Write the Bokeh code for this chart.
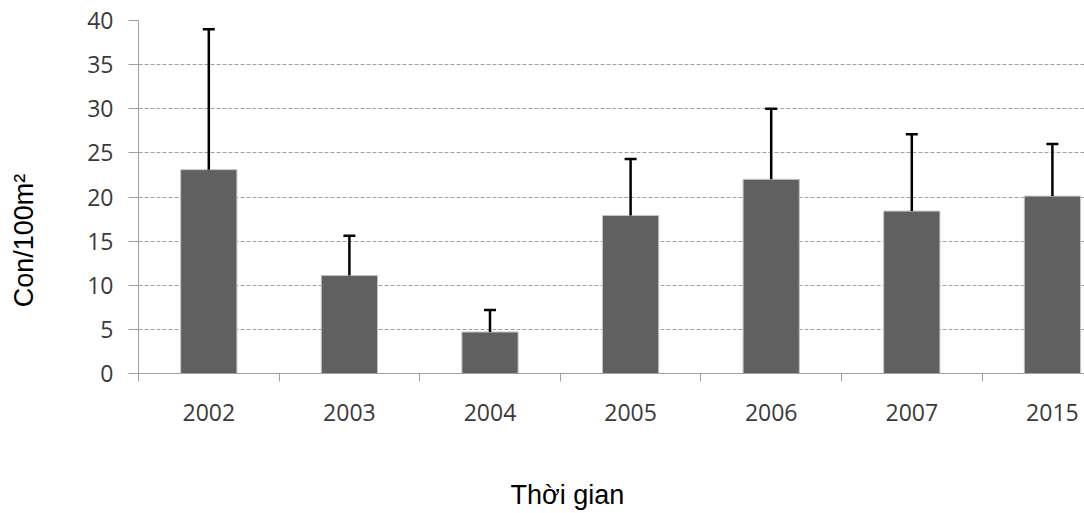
from bokeh.plotting import figure
from bokeh.models import (ColumnDataSource, Range1d, FixedTicker, Whisker, TeeHead,
                          LinearAxis)
from bokeh.embed import file_html
from bokeh.resources import INLINE

# Mean density (individuals per 100 m2) by survey year, with standard deviation
years = ["2002", "2003", "2004", "2005", "2006", "2007", "2015"]
means = [23.1, 11.1, 4.7, 17.9, 22.0, 18.4, 20.1]
errors = [15.9, 4.5, 2.5, 6.4, 8.0, 8.7, 5.9]
y_ticks = [0, 5, 10, 15, 20, 25, 30, 35, 40]
x_title = "Thời gian"
y_title = "Con/100m²"

xs = list(range(len(years)))
src = ColumnDataSource(dict(
    x=xs,
    mean=means,
    upper=[m + e for m, e in zip(means, errors)],
))

CAT_PX = 140.6
FRAME_W = 946
FRAME_H = 353
X0 = -0.5
X1 = X0 + FRAME_W / CAT_PX
PX_Y = FRAME_H / 40.0

p = figure(width=1084, height=513, output_backend="svg", toolbar_location=None,
           x_range=Range1d(X0, X1), y_range=Range1d(0, 40),
           min_border_left=138, min_border_right=0, min_border_top=20,
           min_border_bottom=140, x_axis_location=None, y_axis_location=None)
p.outline_line_color = None
p.background_fill_color = "white"
p.border_fill_color = "white"

# value axis
yax = LinearAxis(ticker=FixedTicker(ticks=y_ticks))
yax.axis_line_color = "#a0a0a0"
yax.major_tick_line_color = "#a0a0a0"
yax.major_tick_out = 10
yax.major_tick_in = 0
yax.minor_tick_line_color = None
yax.major_label_standoff = 15
yax.major_label_text_font = "Open Sans"
yax.major_label_text_font_size = "23px"
yax.major_label_text_color = "#3a3a3a"
p.add_layout(yax, "left")

# category axis: labels at bar centres, tick marks on category boundaries
xax = LinearAxis(ticker=FixedTicker(ticks=xs,
                                    minor_ticks=[i - 0.5 for i in range(len(years) + 1)]))
xax.major_label_overrides = {i: y for i, y in enumerate(years)}
xax.axis_line_color = "#a0a0a0"
xax.major_tick_line_color = None
xax.major_tick_out = 0
xax.major_tick_in = 0
xax.minor_tick_line_color = "#a0a0a0"
xax.minor_tick_out = 8
xax.minor_tick_in = 0
xax.major_label_standoff = 22
xax.major_label_text_font = "Open Sans"
xax.major_label_text_font_size = "23px"
xax.major_label_text_color = "#3a3a3a"
p.add_layout(xax, "below")


def title_axis(pos, text, standoff, orientation="horizontal"):
    """A bare axis carrying a single label, used as an off-centre axis title."""
    ax = LinearAxis(ticker=FixedTicker(ticks=[pos], minor_ticks=[]))
    ax.major_label_overrides = {pos: text}
    ax.axis_line_color = None
    ax.major_tick_line_color = None
    ax.minor_tick_line_color = None
    ax.major_tick_out = 0
    ax.major_tick_in = 0
    ax.major_label_standoff = standoff
    ax.major_label_orientation = orientation
    ax.major_label_text_font = "Liberation Sans"
    ax.major_label_text_font_size = "27px"
    ax.major_label_text_color = "black"
    return ax


# x title centred at 567 px, y title centred at 240 px
p.add_layout(title_axis(round(X0 + (567 - 138) / CAT_PX, 4), x_title, 56), "below")
p.add_layout(title_axis(round((373 - 240) / PX_Y, 4), y_title, 45, "vertical"), "left")

# grid
p.xgrid.visible = False
p.ygrid.ticker = FixedTicker(ticks=y_ticks[1:])
p.ygrid.grid_line_color = "#a0a0a0"
p.ygrid.grid_line_dash = "4 2"
p.ygrid.grid_line_width = 1

# bars
p.vbar(x="x", top="mean", bottom=0, width=0.4, source=src,
       fill_color="#606060", line_color="#c4c4c4", line_width=1)

# error bars
wh = Whisker(base="x", lower="mean", upper="upper", source=src,
             line_color="black", line_width=2.5,
             upper_head=TeeHead(size=12, line_color="black", line_width=2.5),
             lower_head=None, level="glyph")
p.add_layout(wh)

open("out.html", "w").write(file_html(p, INLINE))
